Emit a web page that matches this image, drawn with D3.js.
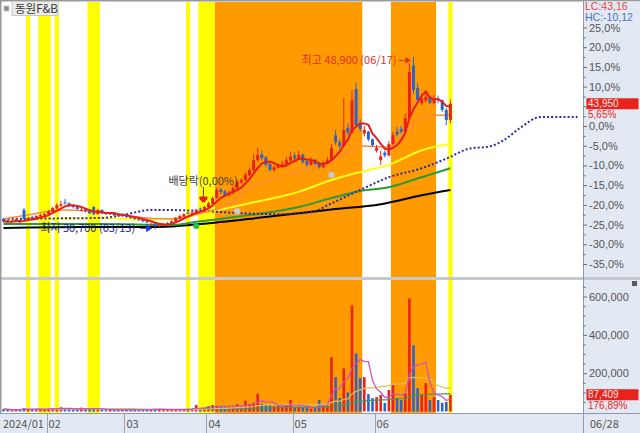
<!DOCTYPE html>
<html><head><meta charset="utf-8">
<script src="https://cdn.jsdelivr.net/npm/d3@7"></script>
<style>
html,body{margin:0;padding:0;background:#fff;overflow:hidden}
svg{display:block}
text{font-family:"Noto Sans CJK KR","Noto Sans",sans-serif;font-size:11px}
text.ax, .tick text{font-family:"Liberation Sans",Arial,sans-serif}
</style></head><body>
<svg id="c" width="640" height="433"></svg>
<script>
// ---------- data ----------
const title = "동원F&B";
const dates = [
 "01/17","01/18","01/19","01/22","01/23","01/24","01/25","01/26","01/29","01/30","01/31",
 "02/01","02/02","02/05","02/06","02/07","02/08","02/13","02/14","02/15","02/16","02/19","02/20","02/21","02/22","02/23","02/26","02/27","02/28","02/29",
 "03/04","03/05","03/06","03/07","03/08","03/11","03/12","03/13","03/14","03/15","03/18","03/19","03/20","03/21","03/22","03/25","03/26","03/27","03/28","03/29",
 "04/01","04/02","04/03","04/04","04/05","04/08","04/09","04/11","04/12","04/15","04/16","04/17","04/18","04/19","04/22","04/23","04/24","04/25","04/26","04/29","04/30",
 "05/02","05/03","05/07","05/08","05/09","05/10","05/13","05/14","05/16","05/17","05/20","05/21","05/22","05/23","05/24","05/27","05/28","05/29","05/30","05/31",
 "06/03","06/04","06/05","06/07","06/10","06/11","06/12","06/13","06/14","06/17","06/18","06/19","06/20","06/21","06/24","06/25","06/26","06/27","06/28"];
const monthLabels = ["2024/01","02","03","04","05","06"];
const lastDateLabel = "06/28";

const opens = [31800,31650,31450,31500,31700,32750,31700,32000,31800,32050,32150,
 32300,32550,32900,33200,33550,33450,33200,33050,32700,32800,32650,33050,32300,32750,32450,32300,32450,32250,32100,
 32250,32050,31950,31850,31750,31600,31200,31300,31000,31150,31200,31300,31500,31850,32050,32450,32350,32450,32900,32800,
 33000,33400,34000,34900,34700,34300,34500,35000,35650,35900,36400,36900,38000,38600,38300,37600,36950,37200,37350,37550,37950,
 38500,38150,38600,37900,37500,38050,37700,37250,37650,38000,40600,39900,39500,41400,40900,45500,41900,40800,41000,40200,
 39000,38000,38800,38500,39700,41000,41300,41000,42450,48000,45600,44000,44300,44600,44000,44500,44300,43300,42250];
const highs = [31900,31700,31650,31800,31750,32950,32000,32100,32200,32350,32450,
 32750,33100,33450,33700,33900,33550,33300,33150,32950,32900,32750,33150,32850,32800,32550,32550,32500,32350,32300,
 32350,32100,32000,31900,31800,31650,31400,31350,31250,31350,31450,31650,32000,32250,32400,32600,32650,32850,33000,33200,
 33600,34150,35100,35050,34850,34800,35300,35900,36100,36700,37200,38650,39300,39000,38450,37700,37450,37600,37900,38300,38900,
 38800,39000,38700,38000,38300,38150,37800,37900,38300,39700,41200,40200,44550,41900,45400,46150,42300,41600,41100,40300,
 39600,39000,39000,40000,41000,41500,41600,42900,48200,48900,46100,45000,45300,44800,44900,44800,44400,43500,44400];
const lows = [31400,31300,31350,31450,31350,31700,31600,31700,31750,31950,32050,
 32200,32450,32800,33050,33300,33050,32900,32750,32600,32500,32300,32200,32250,32300,32200,32200,32100,32000,32000,
 31900,31800,31700,31600,31450,31350,31100,30700,30900,31050,31100,31250,31450,31800,31950,32300,32250,32400,32700,32700,
 32950,33350,33950,34400,34200,34200,34400,34950,35500,35800,36300,36850,37800,38000,37300,36800,36800,37100,37250,37450,37850,
 38000,38050,37600,37300,37400,37450,37100,37150,37550,37900,39600,39200,39400,40600,40800,41500,41000,40500,40000,39400,
 38800,37500,38300,38400,39600,40500,40800,40900,42300,45000,44000,43800,44100,43900,43900,44000,43100,41700,41900];
const closes = [31550,31450,31550,31700,31450,31800,31900,31800,32100,32200,32300,
 32600,32950,33250,33350,33450,33150,33050,32850,32750,32600,32400,32300,32750,32400,32300,32400,32200,32100,32200,
 32000,31900,31800,31700,31550,31450,31250,31050,31150,31250,31350,31550,31900,32100,32300,32400,32500,32750,32850,33050,
 33450,34000,34850,34650,34300,34550,35050,35700,35900,36450,36950,38000,38550,38200,37500,36950,37250,37400,37600,38000,38350,
 38200,38550,37800,37500,38000,37600,37250,37700,38000,39300,39900,39500,41200,40900,44300,41700,41300,41200,40200,39600,
 39300,38400,38500,39700,40650,40700,41000,42450,47300,45400,44350,44550,44650,44050,44550,44350,43300,42250,43950];
const volumes = [12000,10000,8000,9000,11000,18000,9000,10000,12000,14000,11000,
 15000,18000,14000,22000,16000,12000,10000,9000,20000,17000,15000,17000,9000,8000,7000,9000,8000,10000,9000,
 8000,7000,9000,8000,10000,9000,11000,14000,10000,9000,8000,9000,10000,12000,11000,13000,14000,34000,15000,18000,
 28000,34000,30000,25000,22000,26000,30000,38000,28000,56000,35000,45000,93000,40000,36000,34000,28000,30000,26000,32000,60000,
 22000,25000,20000,18000,15000,20000,60000,39000,28000,283000,179000,70000,225000,100000,553000,303000,174000,179000,91000,70000,
 75000,86000,44000,112000,138000,70000,60000,96000,590000,345000,122000,86000,148000,60000,75000,60000,45000,49400,87409];

const basePrice = 41600;          // 0,0% reference price
const lcText = "LC:43,16", hcText = "HC:-10,12";
const volChangeText = "176,89%";

// moving averages read as [dayIndex, price]
const ma20 = [[0,31800],[7,32300],[11,32600],[15,32750],[24,32500],[32,32000],[41,31800],[48,32400],[53,32950],[61,35250],[69,36450],[76,37300],[81,38000],[87,39500],[94,39400],[99,41400],[104,42750],[109,42750]];
const ma60 = [[0,31550],[11,31800],[24,31900],[36,31700],[45,32000],[49,32400],[60,33450],[72,34650],[80,35900],[87,36750],[94,37500],[102,39050],[109,39700]];
const ma120 = [[0,31250],[24,31250],[41,31150],[48,31550],[60,32200],[72,33050],[80,34000],[87,34750],[94,35150],[102,36200],[109,37150]];
const ma240 = [[0,30850],[19,30950],[38,30950],[48,31250],[64,32000],[80,32800],[92,33350],[102,34300],[109,34850]];
const leadSpan = [[0,31800],[12,31850],[24,31900],[30,32300],[36,32750],[48,32650],[58,32400],[67,32300],[75,32500],[80,33450],[87,34850],[94,36200],[102,37150],[109,38350],[113,39150],[119,39500],[122,40100],[126,41400],[131,42550],[140,42550]];

const yellowBands = [[6,6],[9,11],[13,13],[21,23],[45,45],[48,51],[109,109]];
const orangeBands = [[52,87],[95,105]];
const graySignals = [[57,32600],[80,36450]];
const greenSignals = [[47,31050]];
const exDivIndex = 49, exDivText = "배당락(0,00%)";
const highIndex = 100, highText = "최고 48,900 (06/17)";
const lowIndex = 37, lowText = "최저 30,700 (03/13)";

const pctTicks = [25,20,15,10,5,0,-5,-10,-15,-20,-25,-30,-35];
const pctHiddenLabels = [5];      // covered by the current-price box in the reference
const volTicks = [200000,400000,600000];

// ---------- layout ----------
const svg = d3.select("#c");
const L = 2, R = 583, pTop = 2, pBot = 277, vTop = 280, vBot = 413, H = 433, W = 640;
const n = closes.length;
const x = d3.scaleLinear().domain([0, n-1]).range([3.5, 3.5 + 4.1*(n-1)]);
const step = x(1) - x(0);
const yPct = d3.scaleLinear().domain([-35, 25]).range([264, 27.5]);
const yP = p => yPct((p/basePrice - 1)*100);
const yV = d3.scaleLinear().domain([0, 600000]).range([411.5, 296.5]);
const RED = "#e8231b", BLUE = "#2f63c8";

const defs = svg.append("defs");
defs.append("clipPath").attr("id","cp").append("rect").attr("x",L).attr("y",pTop).attr("width",R-L).attr("height",pBot-pTop);
defs.append("clipPath").attr("id","cv").append("rect").attr("x",L).attr("y",vTop).attr("width",R-L).attr("height",vBot-vTop);

svg.append("rect").attr("width",W).attr("height",H).attr("fill","#fff");

// background highlight bands
function bands(list, color){
  [[pTop,pBot],[vTop,vBot]].forEach(([a,b])=>{
    svg.append("g").selectAll("rect").data(list).join("rect")
      .attr("x", d=>x(d[0])-step/2).attr("width", d=>x(d[1])-x(d[0])+step)
      .attr("y", a).attr("height", b-a).attr("fill", color);
  });
}
bands(orangeBands, "#ff9a00");
bands(yellowBands, "#ffff00");

// ---------- price panel ----------
const gp = svg.append("g").attr("clip-path","url(#cp)");
const lineS = d3.line().x(d=>x(d[0])).y(d=>yP(d[1])).curve(d3.curveMonotoneX);
gp.append("path").attr("d", lineS(ma240)).attr("fill","none").attr("stroke","#000").attr("stroke-width",2);
gp.append("path").attr("d", lineS(ma120)).attr("fill","none").attr("stroke","#2a9a3a").attr("stroke-width",2);
gp.append("path").attr("d", lineS(ma60)).attr("fill","none").attr("stroke","#ffff1a").attr("stroke-width",2);
gp.append("path").attr("d", lineS(leadSpan)).attr("fill","none").attr("stroke","#2a2aa8").attr("stroke-width",2).attr("stroke-dasharray","2,2.1");
gp.append("path").attr("d", lineS(ma20)).attr("fill","none").attr("stroke","#ff8a3d").attr("stroke-width",1.5);

// candles
const cg = gp.append("g");
d3.range(n).forEach(i=>{
  const up = closes[i] >= opens[i];
  const col = up ? RED : BLUE;
  cg.append("line").attr("x1",x(i)).attr("x2",x(i)).attr("y1",yP(highs[i])).attr("y2",yP(lows[i])).attr("stroke",col).attr("stroke-width",1);
  const y1 = yP(Math.max(opens[i],closes[i])), y2 = yP(Math.min(opens[i],closes[i]));
  cg.append("rect").attr("x",x(i)-1.5).attr("width",3).attr("y",y1).attr("height",Math.max(1,y2-y1)).attr("fill",col);
});

// 5-day moving average from closes
const ma5 = d3.range(n).map(i=>[i, d3.mean(closes.slice(Math.max(0,i-4), i+1))]);
gp.append("path").attr("d", d3.line().x(d=>x(d[0])).y(d=>yP(d[1]))(ma5)).attr("fill","none").attr("stroke","#e81c1c").attr("stroke-width",2);

// signal dots
gp.selectAll(".gs").data(graySignals).join("circle").attr("cx",d=>x(d[0])).attr("cy",d=>yP(d[1])).attr("r",3.2).attr("fill","#c9c9c9");
gp.selectAll(".gr").data(greenSignals).join("circle").attr("cx",d=>x(d[0])).attr("cy",d=>yP(d[1])).attr("r",3).attr("fill","#22c43a");

// annotations
const hx = x(highIndex), hy = yP(highs[highIndex]);
gp.append("text").attr("x", hx-17).attr("y", hy+7).attr("text-anchor","end").attr("fill","#e0302a").text(highText);
gp.append("line").attr("x1",hx-15).attr("x2",hx-7).attr("y1",hy+3.5).attr("y2",hy+3.5).attr("stroke","#e0302a");
gp.append("path").attr("d",`M${hx-8},${hy}L${hx-3},${hy+3.5}L${hx-8},${hy+7}Z`).attr("fill","#e0302a");

const lx = x(lowIndex), ly = yP(lows[lowIndex]);
gp.append("text").attr("x", lx-115).attr("y", ly+3).attr("fill","#1a2a90").text(lowText);
gp.append("line").attr("x1",lx-15).attr("x2",lx-8).attr("y1",ly-1).attr("y2",ly-1).attr("stroke","#2a3ad0");
gp.append("path").attr("d",`M${lx-9},${ly-5}L${lx-3},${ly-1}L${lx-9},${ly+3}Z`).attr("fill","#1a3ae0");

const ex = x(exDivIndex);
gp.append("text").attr("x", ex-36).attr("y", 185).attr("fill","#404040").text(exDivText);
gp.append("line").attr("x1",ex-1).attr("x2",ex-1).attr("y1",187).attr("y2",197).attr("stroke","#404040");
gp.append("path").attr("d",`M${ex-5},196.5L${ex+3},196.5L${ex+3},199L${ex},202.5L${ex-2},202.5L${ex-5},199Z`).attr("fill",RED);

// ---------- volume panel ----------
const gv = svg.append("g").attr("clip-path","url(#cv)");
gv.selectAll("rect.v").data(volumes).join("rect")
  .attr("x",(d,i)=>x(i)-1.3).attr("width",2.6)
  .attr("y",d=>yV(d)).attr("height",d=>yV(0)-yV(d))
  .attr("fill",(d,i)=> closes[i] >= opens[i] ? RED : BLUE);
function vma(k){ return d3.range(n).map(i=>[i, d3.mean(volumes.slice(Math.max(0,i-k+1), i+1))]); }
const vline = d3.line().x(d=>x(d[0])).y(d=>yV(d[1]));
gv.append("path").attr("d", vline(vma(60))).attr("fill","none").attr("stroke","#3a9a6a").attr("stroke-width",1.2);
gv.append("path").attr("d", vline(vma(20))).attr("fill","none").attr("stroke","#d6c25a").attr("stroke-width",1.2);
gv.append("path").attr("d", vline(vma(5))).attr("fill","none").attr("stroke","#d04ad0").attr("stroke-width",1.2);

// panel separator & frame
svg.append("rect").attr("x",0).attr("y",pBot).attr("width",W).attr("height",vTop-pBot).attr("fill","#c4c8d0");
svg.append("rect").attr("x",0).attr("y",0).attr("width",W).attr("height",1.5).attr("fill","#9a9a9a");
svg.append("rect").attr("x",0).attr("y",0).attr("width",1.5).attr("height",H).attr("fill","#9a9a9a");

// ---------- right axis panel ----------
svg.append("rect").attr("x",R).attr("y",1.5).attr("width",W-R).attr("height",pBot-1.5).attr("fill","#e3e9f3");
svg.append("rect").attr("x",R).attr("y",vTop).attr("width",W-R).attr("height",vBot-vTop).attr("fill","#e3e9f3");
svg.append("line").attr("x1",R+0.5).attr("x2",R+0.5).attr("y1",0).attr("y2",H).attr("stroke","#8c9ab2");

const pctFmt = d => pctHiddenLabels.includes(d) ? "" : (d<0?"-":"") + Math.abs(d).toFixed(1).replace(".",",") + "%";
svg.append("g").attr("transform",`translate(${R},0)`)
  .call(d3.axisRight(yPct).tickValues(pctTicks).tickSize(4).tickPadding(2).tickFormat(pctFmt));
const minorPct = pctTicks.slice(1).map(d=>d+2.5);
svg.append("g").attr("transform",`translate(${R},0)`).call(d3.axisRight(yPct).tickValues(minorPct).tickSize(2.5).tickFormat(""));
svg.append("g").attr("transform",`translate(${R},0)`)
  .call(d3.axisRight(yV).tickValues(volTicks).tickSize(4).tickPadding(2).tickFormat(d3.format(",")));
const minorVol = [50000,100000,150000,250000,300000,350000,450000,500000,550000,650000];
svg.append("g").attr("transform",`translate(${R},0)`).call(d3.axisRight(yV).tickValues(minorVol).tickSize(2.5).tickFormat(""));
svg.selectAll(".domain").remove();
svg.selectAll(".tick line").attr("stroke","#6a6a6a");
svg.selectAll(".tick text").attr("fill","#555").style("font-size","11px").style("font-family","'Liberation Sans',Arial,sans-serif");

// LC / HC labels
svg.append("text").attr("class","ax").attr("x",R+2).attr("y",10).attr("fill","#e04848").style("font-size","10.5px").text(lcText);
svg.append("text").attr("class","ax").attr("x",R+2).attr("y",20.5).attr("fill","#4a6fc8").style("font-size","10.5px").text(hcText);

// current price box
const last = n-1, cy = yP(closes[last]);
svg.append("rect").attr("x",R+3.5).attr("y",cy-5.5).attr("width",W-R-5).attr("height",11).attr("fill",RED);
svg.append("text").attr("class","ax").attr("x",R+5).attr("y",cy+3.5).attr("fill","#ffe4e4").style("font-size","10px").text(d3.format(",")(closes[last]));
const chg = ((closes[last]/basePrice-1)*100).toFixed(2).replace(".",",") + "%";
svg.append("text").attr("class","ax").attr("x",R+5).attr("y",cy+14.7).attr("fill",RED).style("font-size","10px").text(chg);

// current volume box
const vy = yV(volumes[last]);
svg.append("rect").attr("x",R+3.5).attr("y",vy-5.5).attr("width",W-R-5).attr("height",11).attr("fill",RED);
svg.append("text").attr("class","ax").attr("x",R+5).attr("y",vy+3.5).attr("fill","#ffe4e4").style("font-size","10px").text(d3.format(",")(volumes[last]));
svg.append("text").attr("class","ax").attr("x",R+5).attr("y",vy+14.7).attr("fill",RED).style("font-size","10px").text(volChangeText);
// small close icon
svg.append("rect").attr("x",632).attr("y",281).attr("width",5).attr("height",5).attr("fill","#5a5a5a");

// ---------- x axis bar ----------
svg.append("rect").attr("x",0).attr("y",vBot).attr("width",W).attr("height",H-vBot).attr("fill","#e3e9f3");
svg.append("line").attr("x1",0).attr("x2",W).attr("y1",vBot+0.5).attr("y2",vBot+0.5).attr("stroke","#8c9ab2");
const monthStarts = d3.range(n).filter(i=> i===0 || dates[i].slice(0,2)!==dates[i-1].slice(0,2));
monthStarts.forEach((idx,k)=>{
  const sx = x(idx) - step/2;
  if (k>0) svg.append("line").attr("x1",Math.round(sx)+0.5).attr("x2",Math.round(sx)+0.5).attr("y1",vBot).attr("y2",H).attr("stroke","#9aa5b8");
  svg.append("text").attr("x", k===0 ? 3 : sx+2).attr("y",428).attr("fill","#555").text(monthLabels[k]);
});
svg.append("line").attr("x1",R+0.5).attr("x2",R+0.5).attr("y1",vBot).attr("y2",H).attr("stroke","#8c9ab2");
svg.append("text").attr("x",R+7).attr("y",428).attr("fill","#555").text(lastDateLabel);

// ---------- title ----------
svg.append("rect").attr("x",4).attr("y",6).attr("width",5).attr("height",5).attr("fill","#8a8a8a").attr("stroke","#ccc");
svg.append("rect").attr("x",12).attr("y",1.5).attr("width",46).attr("height",14).attr("fill","#ececec").attr("stroke","#c8c8c8");
svg.append("text").attr("x",15).attr("y",12.5).attr("fill","#333").style("font-size","11.5px").text(title);
</script>
</body></html>
